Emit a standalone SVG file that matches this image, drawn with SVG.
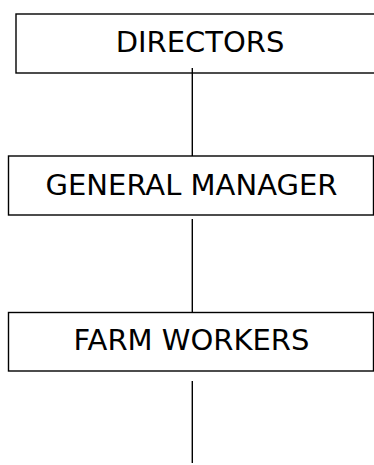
<svg xmlns="http://www.w3.org/2000/svg" width="374" height="465" viewBox="0 0 374 465">
<style>
.box{fill:#fff;stroke:#000;stroke-width:1.4}
.lbl{font-family:"DejaVu Sans",sans-serif;font-size:29px;fill:#000;text-anchor:middle}
.con{stroke:#000;stroke-width:1.4;fill:none}
</style>
<rect width="374" height="465" fill="#fff"/>
<g id="directors">
<rect class="box" x="16" y="14" width="368" height="59"/>
<text class="lbl" x="200" y="52">DIRECTORS</text>
</g>
<g id="general-manager">
<rect class="box" x="8.5" y="156" width="365" height="59"/>
<text class="lbl" x="191.5" y="194.5">GENERAL MANAGER</text>
</g>
<g id="farm-workers">
<rect class="box" x="8.5" y="312.5" width="365" height="58.5"/>
<text class="lbl" x="191.5" y="350">FARM WORKERS</text>
</g>
<g id="connectors">
<line class="con" x1="192.3" y1="68" x2="192.3" y2="156"/>
<line class="con" x1="192.3" y1="219" x2="192.3" y2="312.5"/>
<line class="con" x1="192.3" y1="381" x2="192.3" y2="463"/>
</g>
</svg>
